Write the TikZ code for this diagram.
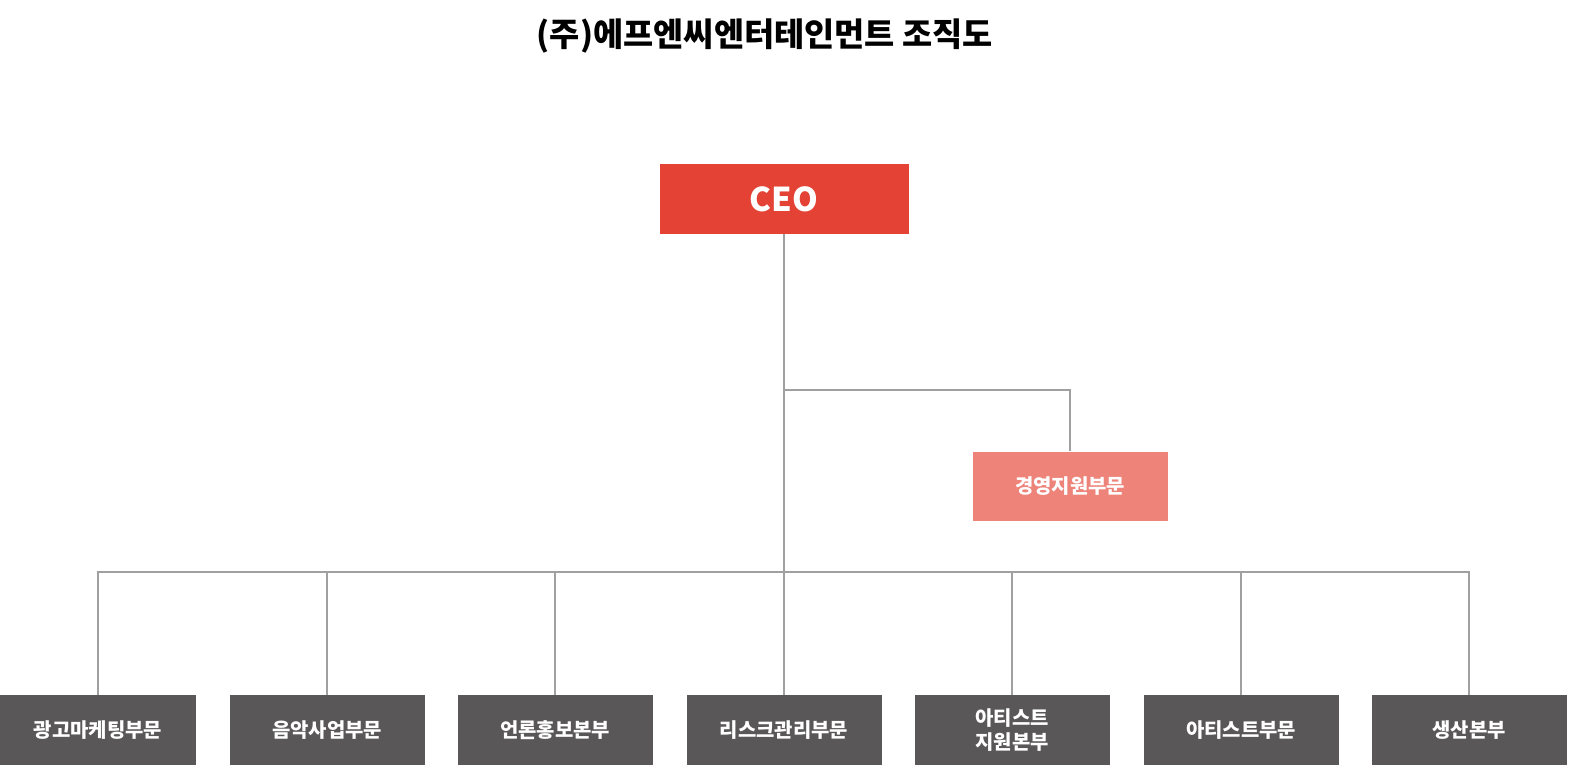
\documentclass[tikz,border=0pt]{standalone}
\usepackage{fontspec}
\setmainfont{Noto Sans CJK KR}
\definecolor{ceored}{HTML}{E34234}
\definecolor{subred}{HTML}{EE837A}
\definecolor{deptgray}{HTML}{595757}
\definecolor{linegray}{HTML}{A0A0A0}

\begin{document}
\begin{tikzpicture}[x=0.03cm,y=-0.03cm,
    block_ceo/.style ={rectangle, draw=none, fill=ceored, text=white,
      minimum width=249*0.03cm, minimum height=70*0.03cm,
      font=\bfseries\fontsize{28}{30}\selectfont},
    block_sub/.style ={rectangle, draw=none, fill=subred, text=white,
      minimum width=195*0.03cm, minimum height=69*0.03cm,
      font=\bfseries\fontsize{17}{19}\selectfont},
    block_dept/.style ={rectangle, draw=none, fill=deptgray, text=white,
      minimum width=195*0.03cm, minimum height=70*0.03cm, align=center,
      font=\bfseries\fontsize{17}{20}\selectfont},
    line/.style ={draw=linegray, line width=1.2pt}]
    \useasboundingbox (0,0) rectangle (1578,777);
    % title
    \node [font=\bfseries\fontsize{28}{30}\selectfont] (title) at (765,36)
      {(주)에프엔씨엔터테인먼트 조직도};
    % top
    \node [block_ceo] (ceo) at (784,199) {CEO};
    \node [block_sub] (support) at (1070,486) {경영지원부문};
    % departments
    \node [block_dept] (ad) at (98,730) {광고마케팅부문};
    \node [block_dept] (music) at (327,730) {음악사업부문};
    \node [block_dept] (press) at (555,730) {언론홍보본부};
    \node [block_dept] (risk) at (784,730) {리스크관리부문};
    \node [block_dept] (artistsup) at (1012,730) {아티스트\\지원본부};
    \node [block_dept] (artist) at (1241,730) {아티스트부문};
    \node [block_dept] (prod) at (1469,730) {생산본부};
    % junctions
    \coordinate (split_r) at (784,390);
    \coordinate (split_b) at (784,572);
    % connecting nodes with paths
    \begin{scope}[every path/.style=line]
      \path (ceo.south) -- (split_b);
      \path (split_r) -| (support.north);
      \path (ad.north) |- (split_b);
      \path (music.north) |- (split_b);
      \path (press.north) |- (split_b);
      \path (split_b) -- (risk.north);
      \path (artistsup.north) |- (split_b);
      \path (artist.north) |- (split_b);
      \path (prod.north) |- (split_b);
    \end{scope}
\end{tikzpicture}
\end{document}
